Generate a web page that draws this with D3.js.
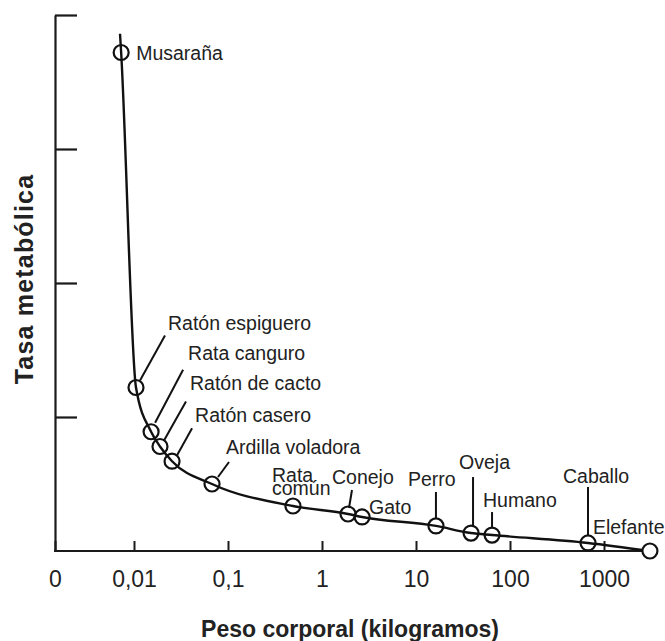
<!DOCTYPE html>
<html>
<head>
<meta charset="utf-8">
<script src="https://cdn.jsdelivr.net/npm/d3@7"></script>
<style>
  body { margin: 0; background: #fff; }
  text { font-family: "Liberation Sans", Arial, Helvetica, sans-serif; fill: #222; }
</style>
</head>
<body>
<svg class="chart"></svg>
<script>
// data (weight in kg, metabolic rate in arbitrary units)
const species = ["Musaraña", "Ratón espiguero", "Rata canguro", "Ratón de cacto", "Ratón casero",
                 "Ardilla voladora", "Rata común", "Conejo", "Gato", "Perro", "Oveja", "Humano",
                 "Caballo", "Elefante"];
const weightsKg = [0.0073, 0.0105, 0.0152, 0.0189, 0.0254, 0.0676, 0.491, 1.89, 2.67, 16.3, 38.5, 64.4, 676, 3080];
const metabolicRates = [3.72, 1.22, 0.89, 0.78, 0.67, 0.50, 0.336, 0.276, 0.254, 0.187, 0.134, 0.119, 0.06, 0];
// the curve starts a little above the first point
const curveStartWeight = 0.0071;
const curveStartRate = 3.86;

const xTickValues = [0.01, 0.1, 1, 10, 100, 1000];
const xTickLabels = ["0", "0,01", "0,1", "1", "10", "100", "1000"];
const yTickValues = [1, 2, 3, 4];

let w = 665, h = 641;
let x0 = 55, yBase = 551, yTop = 15;

// label placement relative to each circle: text offset, extra lines, leader line
const labelLayout = {
  "Musaraña":         {dx: 15,  dy: 7},
  "Ratón espiguero":  {dx: 32,  dy: -58, lead: [4, -7, 29, -52]},
  "Rata canguro":     {dx: 37,  dy: -72, lead: [4, -9, 32, -62]},
  "Ratón de cacto":   {dx: 30,  dy: -56, lead: [4, -6, 26, -45]},
  "Ratón casero":     {dx: 23,  dy: -39, lead: [5, -6, 20, -33]},
  "Ardilla voladora": {dx: 14,  dy: -30, lead: [6, -7, 17, -22]},
  "Rata común":       {dx: -21, dy: -24, lines: ["Rata", "común"], lineGap: 13},
  "Conejo":           {dx: -16, dy: -30, lead: [1, -6, 4, -24]},
  "Gato":             {dx: 7,   dy: -3},
  "Perro":            {dx: -28, dy: -40, lead: [0, -7, 0, -34]},
  "Oveja":            {dx: -12, dy: -64, lead: [2, -6, 2, -56]},
  "Humano":           {dx: -9,  dy: -28, lead: [0, -7, 0, -23]},
  "Caballo":          {dx: -25, dy: -60, lead: [0, -7, 0, -56]},
  "Elefante":         {dx: -57, dy: -17}
};

var svg = d3.select(".chart")
            .attr("width", w)
            .attr("height", h);

var xLog = d3.scaleLog().domain([0.01, 1000]).range([134, 604]);
var xMin = xLog.invert(x0);
var xMax = weightsKg[weightsKg.length - 1];
var xS = xLog.copy().domain([xMin, xMax]).range([x0, xLog(xMax)]);

var yS = d3.scaleLinear().domain([0, 4]).range([yBase, yTop]);

var r = 7.5;

// y axis: ticks pointing inward, no labels
var yAxis = svg.append("g")
   .attr("transform", "translate(" + x0 + ",0)")
   .call(d3.axisRight(yS).tickValues(yTickValues).tickSizeInner(22).tickSizeOuter(0).tickFormat(""));
yAxis.select(".domain").attr("stroke", "#1a1a1a").attr("stroke-width", 2.2);
yAxis.selectAll(".tick line").attr("stroke", "#1a1a1a").attr("stroke-width", 2.2);

// x axis
var xAxis = svg.append("g")
   .attr("transform", "translate(0," + yBase + ")")
   .call(d3.axisBottom(xS).tickValues([xMin].concat(xTickValues)).tickSizeInner(-10).tickSizeOuter(0)
           .tickFormat((d, i) => xTickLabels[i]));
xAxis.select(".domain").remove();
xAxis.append("line")
   .attr("x1", x0 - 1).attr("x2", xS(xMax) - r)
   .attr("stroke", "#1a1a1a").attr("stroke-width", 2.2);
xAxis.selectAll(".tick line").attr("stroke", "#1a1a1a").attr("stroke-width", 2);
xAxis.selectAll(".tick text")
   .attr("y", 36).attr("dy", 0)
   .style("font-size", "23px")
   .style("font-family", "'Liberation Sans', Arial, sans-serif")
   .attr("fill", "#222");

// curve through all the points
var curvePts = [[curveStartWeight, curveStartRate]].concat(weightsKg.map((d, i) => [d, metabolicRates[i]]));
var line = d3.line()
   .x(d => xS(d[0]))
   .y(d => yS(d[1]))
   .curve(d3.curveMonotoneX);

svg.append("path")
   .datum(curvePts)
   .attr("d", line)
   .attr("fill", "none")
   .attr("stroke", "#111")
   .attr("stroke-width", 2.4);

var pts = species.map((s, i) => ({name: s, w: weightsKg[i], r: metabolicRates[i], last: i == species.length - 1}));

// leader lines
svg.selectAll(".lead")
   .data(pts.filter(d => labelLayout[d.name].lead))
   .enter().append("line")
   .attr("class", "lead")
   .attr("x1", d => xS(d.w) + labelLayout[d.name].lead[0])
   .attr("y1", d => yS(d.r) + labelLayout[d.name].lead[1])
   .attr("x2", d => xS(d.w) + labelLayout[d.name].lead[2])
   .attr("y2", d => yS(d.r) + labelLayout[d.name].lead[3])
   .attr("stroke", "#111")
   .attr("stroke-width", 2);

svg.selectAll(".pt")
   .data(pts)
   .enter().append("circle")
   .attr("class", "pt")
   .attr("cx", d => xS(d.w))
   .attr("cy", d => yS(d.r))
   .attr("r", r)
   .attr("fill", d => d.last ? "#fff" : "none")
   .attr("stroke", "#111")
   .attr("stroke-width", 2.2);

var labels = svg.selectAll(".lbl")
   .data(pts)
   .enter().append("text")
   .attr("class", "lbl")
   .attr("x", d => xS(d.w) + labelLayout[d.name].dx)
   .attr("y", d => yS(d.r) + labelLayout[d.name].dy)
   .style("font-size", "19.5px");

labels.each(function(d) {
  let lay = labelLayout[d.name];
  let t = d3.select(this);
  if (lay.lines) {
    lay.lines.forEach((ln, k) => {
      t.append("tspan")
       .attr("x", xS(d.w) + lay.dx)
       .attr("y", yS(d.r) + lay.dy + k * lay.lineGap)
       .text(ln);
    });
  } else {
    t.text(d.name);
  }
});

// axis titles
svg.append("text")
   .attr("transform", "translate(33," + 279 + ") rotate(-90)")
   .attr("text-anchor", "middle")
   .style("font-size", "25px")
   .style("font-weight", "bold")
   .style("letter-spacing", "1.2px")
   .text("Tasa metabólica");

svg.append("text")
   .attr("x", 350)
   .attr("y", 637)
   .attr("text-anchor", "middle")
   .style("font-size", "23px")
   .style("font-weight", "bold")
   .text("Peso corporal (kilogramos)");
</script>
</body>
</html>
